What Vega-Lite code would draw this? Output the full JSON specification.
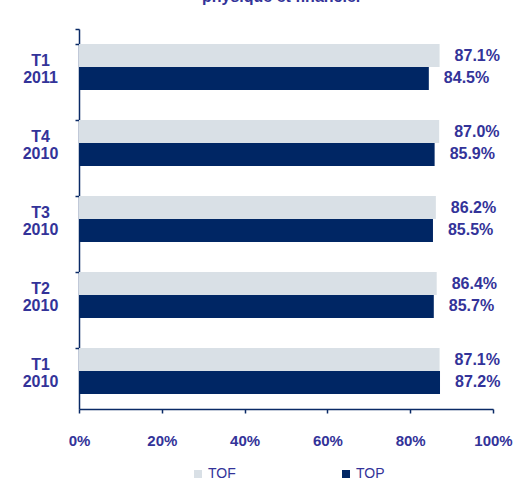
{
  "$schema": "https://vega.github.io/schema/vega-lite/v6.json",
  "autosize": {"type": "none"},
  "padding": {"left": 79, "top": 29, "right": 21, "bottom": 71},
  "width": 414,
  "height": 380,
  "background": "white",
  "title": {
    "text": "physique et financier",
    "fontSize": 16,
    "fontWeight": "bold",
    "font": "Liberation Sans",
    "color": "#333399",
    "anchor": "middle",
    "baseline": "bottom",
    "offset": 0,
    "dx": -4
  },
  "data": {
    "values": [
      {"period": "T1 2011", "series": "TOF", "value": 87.1, "label": "87.1%"},
      {"period": "T1 2011", "series": "TOP", "value": 84.5, "label": "84.5%"},
      {"period": "T4 2010", "series": "TOF", "value": 87.0, "label": "87.0%"},
      {"period": "T4 2010", "series": "TOP", "value": 85.9, "label": "85.9%"},
      {"period": "T3 2010", "series": "TOF", "value": 86.2, "label": "86.2%"},
      {"period": "T3 2010", "series": "TOP", "value": 85.5, "label": "85.5%"},
      {"period": "T2 2010", "series": "TOF", "value": 86.4, "label": "86.4%"},
      {"period": "T2 2010", "series": "TOP", "value": 85.7, "label": "85.7%"},
      {"period": "T1 2010", "series": "TOF", "value": 87.1, "label": "87.1%"},
      {"period": "T1 2010", "series": "TOP", "value": 87.2, "label": "87.2%"}
    ]
  },
  "encoding": {
    "y": {
      "field": "period",
      "type": "nominal",
      "sort": ["T1 2011", "T4 2010", "T3 2010", "T2 2010", "T1 2010"],
      "scale": {"paddingInner": 0.395, "paddingOuter": 0.1975},
      "axis": {
        "title": null,
        "labelExpr": "split(datum.label, ' ')",
        "labelFont": "Liberation Sans",
        "labelFontSize": 16,
        "labelFontWeight": "bold",
        "labelColor": "#333399",
        "labelLineHeight": 17,
        "labelAlign": "center",
        "labelPadding": 35,
        "labelOffset": -6,
        "domainColor": "#0a2a66",
        "domainWidth": 1.5,
        "tickColor": "#0a2a66",
        "tickSize": 4,
        "tickWidth": 1.5,
        "bandPosition": 0,
        "tickExtra": true,
        "grid": false
      }
    },
    "yOffset": {
      "field": "series",
      "type": "nominal",
      "sort": ["TOF", "TOP"],
      "scale": {"paddingInner": 0, "paddingOuter": 0}
    },
    "x": {
      "field": "value",
      "type": "quantitative",
      "scale": {"domain": [0, 100], "nice": false},
      "axis": {
        "title": null,
        "values": [0, 20, 40, 60, 80, 100],
        "labelExpr": "datum.value + '%'",
        "labelFlush": false,
        "labelFont": "Liberation Sans",
        "labelFontSize": 15,
        "labelFontWeight": "bold",
        "labelColor": "#333399",
        "labelPadding": 20,
        "domainColor": "#0a2a66",
        "domainWidth": 1.5,
        "tickColor": "#0a2a66",
        "tickSize": 4,
        "tickWidth": 1.5,
        "grid": false
      }
    }
  },
  "layer": [
    {
      "mark": {"type": "bar"},
      "encoding": {
        "color": {
          "field": "series",
          "type": "nominal",
          "sort": ["TOF", "TOP"],
          "scale": {"domain": ["TOF", "TOP"], "range": ["#d9e0e6", "#002664"]},
          "legend": {
            "title": null,
            "orient": "none",
            "direction": "horizontal",
            "columns": 2,
            "columnPadding": 103,
            "legendX": 112,
            "legendY": 438,
            "symbolType": "square",
            "symbolSize": 64,
            "symbolStrokeWidth": 0,
            "labelOffset": 3,
            "labelFont": "Liberation Sans",
            "labelFontSize": 14,
            "labelColor": "#333399"
          }
        }
      }
    },
    {
      "mark": {
        "type": "text",
        "align": "left",
        "baseline": "middle",
        "dx": 15,
        "font": "Liberation Sans",
        "fontSize": 16,
        "fontWeight": "bold",
        "color": "#333399"
      },
      "encoding": {
        "text": {"field": "label"}
      }
    }
  ],
  "config": {
    "view": {"stroke": null}
  }
}
